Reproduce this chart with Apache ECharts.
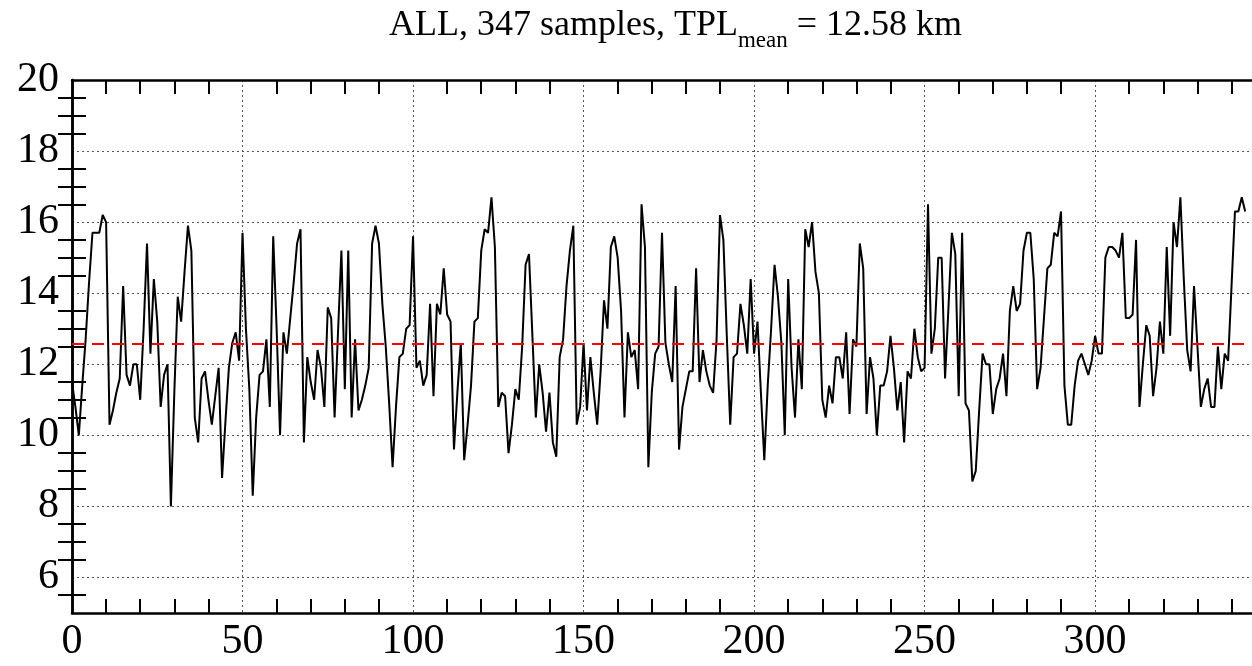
<!DOCTYPE html>
<html>
<head>
<meta charset="utf-8">
<script src="https://cdn.jsdelivr.net/npm/echarts@6/dist/echarts.min.js"></script>
<style>
  html, body { margin: 0; padding: 0; background: #fff; }
  #chart { width: 1252px; height: 666px; }
</style>
</head>
<body>
<div id="chart"></div>
<script>
// TPL per sample (km)
var tpl = [
  11.5, 10.8, 10.0, 11.4, 12.7, 14.3, 15.7, 15.7, 15.7, 16.2,
  16.0, 10.3, 10.7, 11.2, 11.6, 14.2, 11.7, 11.4, 12.0, 12.0,
  11.0, 13.0, 15.4, 12.3, 14.4, 13.2, 10.8, 11.7, 12.0, 8.0,
  11.2, 13.9, 13.2, 14.6, 15.9, 15.2, 10.5, 9.8, 11.6, 11.8,
  11.0, 10.3, 11.1, 11.9, 8.8, 10.4, 11.9, 12.6, 12.9, 12.1,
  15.7, 13.0, 11.3, 8.3, 10.5, 11.7, 11.8, 12.7, 10.8, 15.6,
  13.0, 10.0, 12.9, 12.3, 13.3, 14.3, 15.4, 15.8, 9.8, 12.2,
  11.5, 11.0, 12.4, 11.9, 10.8, 13.6, 13.3, 10.5, 12.9, 15.2,
  11.3, 15.2, 10.5, 12.7, 10.7, 11.0, 11.4, 11.9, 15.4, 15.9,
  15.4, 13.7, 12.5, 10.9, 9.1, 10.8, 12.2, 12.3, 13.0, 13.1,
  15.6, 11.9, 12.1, 11.4, 11.7, 13.7, 11.1, 13.7, 13.4, 14.7,
  13.4, 13.2, 9.6, 11.2, 12.6, 9.3, 10.3, 11.4, 13.2, 13.3,
  15.2, 15.8, 15.7, 16.7, 15.3, 10.8, 11.2, 11.1, 9.5, 10.3,
  11.3, 11.0, 12.5, 14.8, 15.1, 12.8, 10.5, 12.0, 11.2, 10.1,
  11.2, 9.8, 9.4, 12.2, 12.7, 14.2, 15.2, 15.9, 10.3, 10.8,
  12.6, 10.7, 12.2, 11.2, 10.3, 11.8, 13.8, 13.0, 15.3, 15.6,
  15.0, 13.5, 10.5, 12.9, 12.2, 12.4, 11.3, 16.5, 15.3, 9.1,
  11.2, 12.3, 12.5, 15.7, 12.6, 12.0, 11.5, 14.2, 9.6, 10.8,
  11.3, 11.8, 11.8, 14.7, 11.5, 12.4, 11.8, 11.4, 11.2, 12.7,
  16.2, 15.5, 12.8, 10.3, 12.2, 12.3, 13.7, 13.1, 12.3, 14.4,
  12.3, 13.2, 11.2, 9.3, 11.4, 13.0, 14.8, 13.9, 12.6, 10.0,
  14.4, 11.9, 10.5, 12.7, 11.3, 15.8, 15.3, 16.0, 14.6, 14.0,
  11.0, 10.5, 11.4, 10.9, 12.2, 12.2, 11.6, 12.9, 10.6, 12.7,
  12.5, 15.4, 14.7, 10.6, 12.2, 11.6, 10.0, 11.4, 11.4, 11.8,
  12.8, 11.9, 10.7, 11.5, 9.8, 11.8, 11.6, 13.0, 12.2, 11.8,
  11.9, 16.5, 12.3, 13.0, 15.0, 15.0, 11.6, 13.6, 15.7, 15.1,
  11.1, 15.7, 10.9, 10.7, 8.7, 9.0, 10.7, 12.3, 12.0, 12.0,
  10.6, 11.3, 11.6, 12.3, 11.1, 13.5, 14.2, 13.5, 13.7, 15.2,
  15.7, 15.7, 14.4, 11.3, 11.9, 13.3, 14.7, 14.8, 15.7, 15.6,
  16.3, 11.4, 10.3, 10.3, 11.4, 12.1, 12.3, 12.0, 11.7, 12.1,
  12.8, 12.3, 12.3, 15.0, 15.3, 15.3, 15.2, 15.0, 15.7, 13.3,
  13.3, 13.4, 15.5, 10.8, 12.0, 13.1, 12.8, 11.1, 11.9, 13.2,
  12.3, 15.3, 12.8, 16.0, 15.3, 16.7, 14.4, 12.4, 11.8, 14.2,
  12.5, 10.8, 11.3, 11.6, 10.8, 10.8, 12.5, 11.3, 12.3, 12.1,
  14.2, 16.3, 16.3, 16.7, 16.3
];
var tplMean = 12.58;
var nSamples = 347;

var xLabels = [0, 50, 100, 150, 200, 250, 300];
var yLabels = [6, 8, 10, 12, 14, 16, 18, 20];
var yGrid = [6, 8, 10, 12, 14, 16, 18];

// minor ticks: every 10 on x, every 0.5 on y, skipping the gridline positions
var xMinor = [];
for (var m = 10; m < nSamples; m += 10) { if (m % 50 !== 0) xMinor.push(m); }
var yMinor = [];
for (var k = 5.5; k < 20; k += 0.5) { if (k % 2 !== 0) yMinor.push(k); }

var seriesData = tpl.map(function (v, i) { return [i, v]; });

var FONT = 'Liberation Serif';
var frameLine = { show: true, lineStyle: { color: '#000', width: 2.5 } };
var gridLine = { show: true, lineStyle: { color: '#555', width: 1, type: [2, 3] } };
var minorTick = { show: true, inside: true, length: 14, lineStyle: { color: '#000', width: 2 } };

function tickAxis(pos, vals, lineOn) {
  return {
    type: 'value', position: pos, min: 0, max: nSamples - 1,
    axisLine: lineOn ? frameLine : { show: false },
    axisTick: Object.assign({ customValues: vals }, minorTick),
    axisLabel: { show: false }, splitLine: { show: false }
  };
}

var chart = echarts.init(document.getElementById('chart'));
chart.setOption({
  animation: false,
  backgroundColor: '#fff',
  title: {
    text: '{a|ALL, 347 samples, TPL}{s|mean}{a| = 12.58 km}',
    left: 384, top: 3,
    textStyle: {
      rich: {
        a: { fontFamily: FONT, fontSize: 36, fontWeight: 'normal', color: '#000', verticalAlign: 'top' },
        s: { fontFamily: FONT, fontSize: 23, fontWeight: 'normal', color: '#000', verticalAlign: 'top', padding: [21, 0, 0, 0] }
      }
    }
  },
  grid: { left: 72, right: -8, top: 80, bottom: 53 },
  xAxis: [
    {
      type: 'value', position: 'bottom', min: 0, max: nSamples - 1,
      axisLine: Object.assign({ onZero: false }, frameLine),
      axisTick: { show: false, customValues: xLabels },
      axisLabel: { customValues: xLabels, fontFamily: FONT, fontSize: 42, color: '#000', margin: 8 },
      splitLine: gridLine
    },
    tickAxis('bottom', xMinor, false),
    tickAxis('top', xMinor, true)
  ],
  yAxis: [
    {
      type: 'value', position: 'left', min: 5, max: 20,
      axisLine: frameLine,
      axisTick: { show: false, customValues: yGrid },
      axisLabel: { customValues: yLabels, fontFamily: FONT, fontSize: 42, color: '#000', margin: 13 },
      splitLine: gridLine
    },
    {
      type: 'value', position: 'left', min: 5, max: 20,
      axisLine: { show: false },
      axisTick: Object.assign({ customValues: yMinor }, minorTick),
      axisLabel: { show: false }, splitLine: { show: false }
    },
    {
      type: 'value', position: 'right', min: 5, max: 20,
      axisLine: frameLine,
      axisTick: Object.assign({ customValues: yMinor }, minorTick),
      axisLabel: { show: false }, splitLine: { show: false }
    }
  ],
  series: [{
    type: 'line',
    xAxisIndex: 0, yAxisIndex: 0,
    data: seriesData,
    symbol: 'none',
    lineStyle: { color: '#000', width: 2 },
    markLine: {
      silent: true, symbol: 'none',
      label: { show: false },
      lineStyle: { color: '#ff0000', width: 2, type: [12, 8] },
      data: [{ yAxis: tplMean }]
    }
  }]
});
</script>
</body>
</html>
